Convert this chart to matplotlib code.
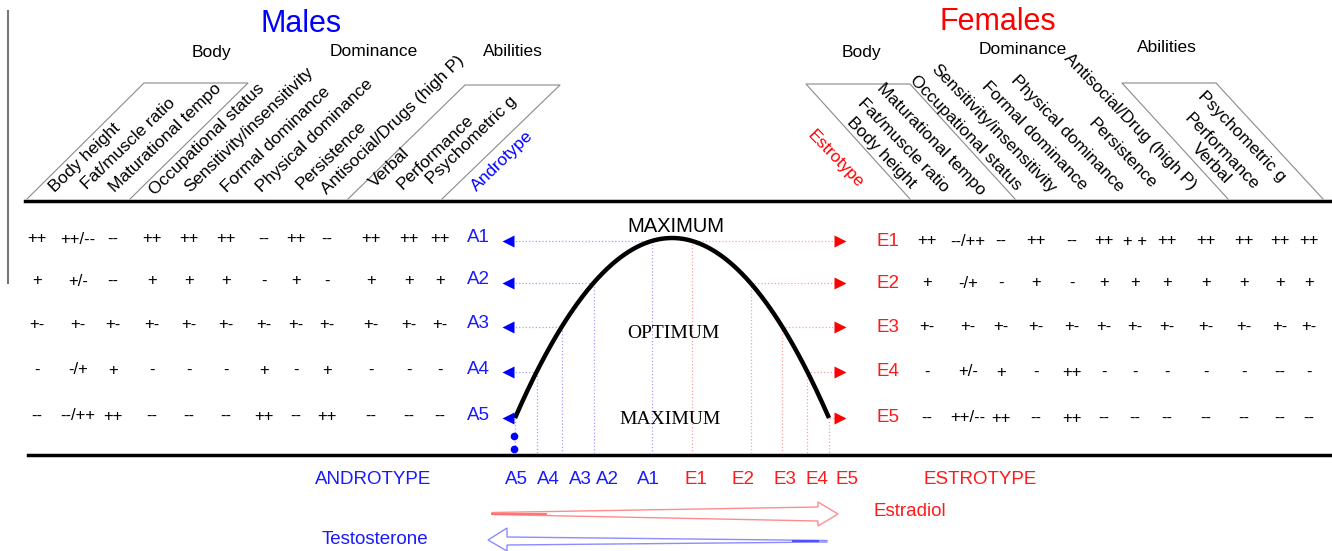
import numpy as np
import matplotlib
matplotlib.use("Agg")
import matplotlib.pyplot as plt
from matplotlib.patches import Polygon

plt.rcParams["font.family"] = ["Liberation Sans", "DejaVu Sans"]

# ── data ─────────────────────────────────────────────────────────────────────
male_traits = ["Body height", "Fat/muscle ratio", "Maturational tempo", "Occupational status",
               "Sensitivity/insensitivity", "Formal dominance", "Physical dominance", "Persistence",
               "Antisocial/Drugs (high P)", "Verbal", "Performance", "Psychometric g"]
female_traits = ["Body height", "Fat/muscle ratio", "Maturational tempo", "Occupational status",
                 "Sensitivity/insensitivity", "Formal dominance", "Physical dominance", "Persistence",
                 "Antisocial/Drug (high P)", "Verbal", "Performance", "Psychometric g"]
group_names = ["Body", "Dominance", "Abilities"]

andro_levels = ["A1", "A2", "A3", "A4", "A5"]
estro_levels = ["E1", "E2", "E3", "E4", "E5"]

male_scores = [
    ["++", "++/--", "--", "++", "++", "++", "--", "++", "--", "++", "++", "++"],
    ["+", "+/-", "--", "+", "+", "+", "-", "+", "-", "+", "+", "+"],
    ["+-", "+-", "+-", "+-", "+-", "+-", "+-", "+-", "+-", "+-", "+-", "+-"],
    ["-", "-/+", "+", "-", "-", "-", "+", "-", "+", "-", "-", "-"],
    ["--", "--/++", "++", "--", "--", "--", "++", "--", "++", "--", "--", "--"],
]
female_scores = [
    ["++", "--/++", "--", "++", "--", "++", "+ +", "++", "++", "++", "++", "++"],
    ["+", "-/+", "-", "+", "-", "+", "+", "+", "+", "+", "+", "+"],
    ["+-", "+-", "+-", "+-", "+-", "+-", "+-", "+-", "+-", "+-", "+-", "+-"],
    ["-", "+/-", "+", "-", "++", "-", "-", "-", "-", "-", "--", "-"],
    ["--", "++/--", "++", "--", "++", "--", "--", "--", "--", "--", "--", "--"],
]
axis_labels = ["A5", "A4", "A3", "A2", "A1", "E1", "E2", "E3", "E4", "E5"]

# ── layout (pixel space) ─────────────────────────────────────────────────────
BLUE, RED = "#1a1aff", "#ff1a1a"
LBLUE, LRED = "#a0a0ff", "#ffa0a0"

male_col_x = [37, 78, 113, 152, 189, 226, 264, 296, 327, 371, 409, 440]
female_col_x = [927, 968, 1001, 1036, 1072, 1104, 1135, 1167, 1206, 1244, 1280, 1309]
row_y = [241, 283, 327, 372, 418]

male_label_xy = [(55, 193), (87, 190), (115, 193), (155, 196), (190, 193), (227, 193),
                 (262, 193), (302, 190), (327, 195), (375, 188), (403, 190), (432, 185)]
female_label_xy = [(910, 189), (943, 193), (980, 196), (1016, 191), (1050, 194), (1081, 191),
                   (1118, 193), (1151, 189), (1190, 191), (1225, 184), (1253, 191), (1280, 183)]

fig = plt.figure(figsize=(13.32, 5.51), dpi=100)
ax = fig.add_axes([0, 0, 1, 1])
ax.set_xlim(0, 1332)
ax.set_ylim(551, 0)
ax.axis("off")

# frame lines
ax.plot([8, 8], [11, 283], color="#777777", lw=1.5)
ax.plot([25, 1332], [201, 201], color="black", lw=2.5)
ax.plot([28, 1332], [455, 455], color="black", lw=2.5)

# titles + group headings
ax.text(301, 24, "Males", color="blue", fontsize=22, ha="center", va="center")
ax.text(998, 22, "Females", color="red", fontsize=22, ha="center", va="center")
for name, x in zip(group_names, [211, 374, 513]):
    ax.text(x, 52, name, fontsize=12.5, ha="center", va="center")
for name, x, y in zip(group_names, [861, 1023, 1167], [52, 50, 47]):
    ax.text(x, y, name, fontsize=12.5, ha="center", va="center")

# grouping boxes
box_kw = dict(color="#8a8a8a", lw=0.8)
ax.plot([27, 144, 248, 130], [199, 83, 83, 199], **box_kw)
ax.plot([348, 465, 560, 442], [199, 85, 85, 199], **box_kw)
ax.plot([910, 806, 910, 1015], [199, 84, 84, 199], **box_kw)
ax.plot([1228, 1122, 1216, 1323], [199, 83, 83, 199], **box_kw)

# rotated trait labels
for t, (x, y) in zip(male_traits, male_label_xy):
    ax.text(x, y, t, fontsize=12.5, rotation=44, rotation_mode="anchor", ha="left", va="baseline")
ax.text(477, 192, "Androtype", color="blue", fontsize=12.5, rotation=44,
        rotation_mode="anchor", ha="left", va="baseline")
for t, (x, y) in zip(female_traits, female_label_xy):
    ax.text(x, y, t, fontsize=12.5, rotation=-46, rotation_mode="anchor", ha="right", va="baseline")
ax.text(858, 189, "Estrotype", color="red", fontsize=12.5, rotation=-46,
        rotation_mode="anchor", ha="right", va="baseline")

# score tables
for i, row in enumerate(male_scores):
    for s, x in zip(row, male_col_x):
        ax.text(x, row_y[i] - 2, s, fontsize=12, ha="center", va="center")
    ax.text(478, row_y[i] - 3, andro_levels[i], color=BLUE, fontsize=13.5, ha="center", va="center")
for i, row in enumerate(female_scores):
    for s, x in zip(row, female_col_x):
        ax.text(x, row_y[i], s, fontsize=12, ha="center", va="center")
    ax.text(888, row_y[i], estro_levels[i], color=RED, fontsize=13.5, ha="center", va="center")

# optimum curve
cx, top, base, half_w = 672, 238, 418, 157
xs = np.linspace(cx - half_w, cx + half_w, 300)
ax.plot(xs, top + (base - top) * ((xs - cx) / half_w) ** 2, color="black", lw=3.2,
        solid_capstyle="butt", zorder=5)

for y in row_y:
    dx = half_w * np.sqrt((y - top) / (base - top))
    ax.plot([512, cx - dx], [y, y], color=LBLUE, lw=0.9, ls=":")
    ax.plot([cx + dx, 835], [y, y], color=LRED, lw=0.9, ls=":")
    ax.plot([cx - dx, cx - dx], [y, 453], color=LBLUE, lw=0.9, ls=":")
    ax.plot([cx + dx, cx + dx], [y, 453], color=LRED, lw=0.9, ls=":")
    ax.plot(508, y, marker="<", ms=8, color="blue", mec="none", zorder=6)
    ax.plot(840, y, marker=">", ms=8, color="red", mec="none", zorder=6)
ax.plot([514, 514], [436, 449], ls="none", marker="o", ms=4.5, color="blue")

ax.text(676, 226, "MAXIMUM", fontsize=14.5, ha="center", va="center")
ax.text(673, 333, "OPTIMUM", fontsize=14, ha="center", va="center", family="Liberation Serif")
ax.text(670, 420, "MAXIMUM", fontsize=14, ha="center", va="center", family="Liberation Serif")

# bottom axis labels
ax.text(373, 479, "ANDROTYPE", color=BLUE, fontsize=13.5, ha="center", va="center")
ax.text(980, 479, "ESTROTYPE", color=RED, fontsize=13.5, ha="center", va="center")
for lab, x in zip(axis_labels, [516, 548, 580, 607, 648, 696, 743, 785, 817, 847]):
    ax.text(x, 479, lab, color=BLUE if lab.startswith("A") else RED,
            fontsize=13.5, ha="center", va="center")

# hormone arrows
ax.add_patch(Polygon([(492, 512.5), (818, 507), (818, 502), (838, 514), (818, 526),
                      (818, 521), (492, 514.5)], closed=True, fc="white", ec="#ff8c8c", lw=1))
ax.plot([492, 546], [513.5, 513.5], color="#ff6a6a", lw=1.3)
ax.add_patch(Polygon([(488, 540), (507, 528), (507, 537), (827, 540.5), (827, 542),
                      (507, 545), (507, 551)], closed=True, fc="white", ec="#8c8cff", lw=1))
ax.plot([793, 818], [541, 541], color="#5050ff", lw=1.5)
ax.text(910, 512, "Estradiol", color=RED, fontsize=13.5, ha="center", va="center")
ax.text(375, 539, "Testosterone", color=BLUE, fontsize=13.5, ha="center", va="center")

fig.savefig("out.png", dpi=100)
